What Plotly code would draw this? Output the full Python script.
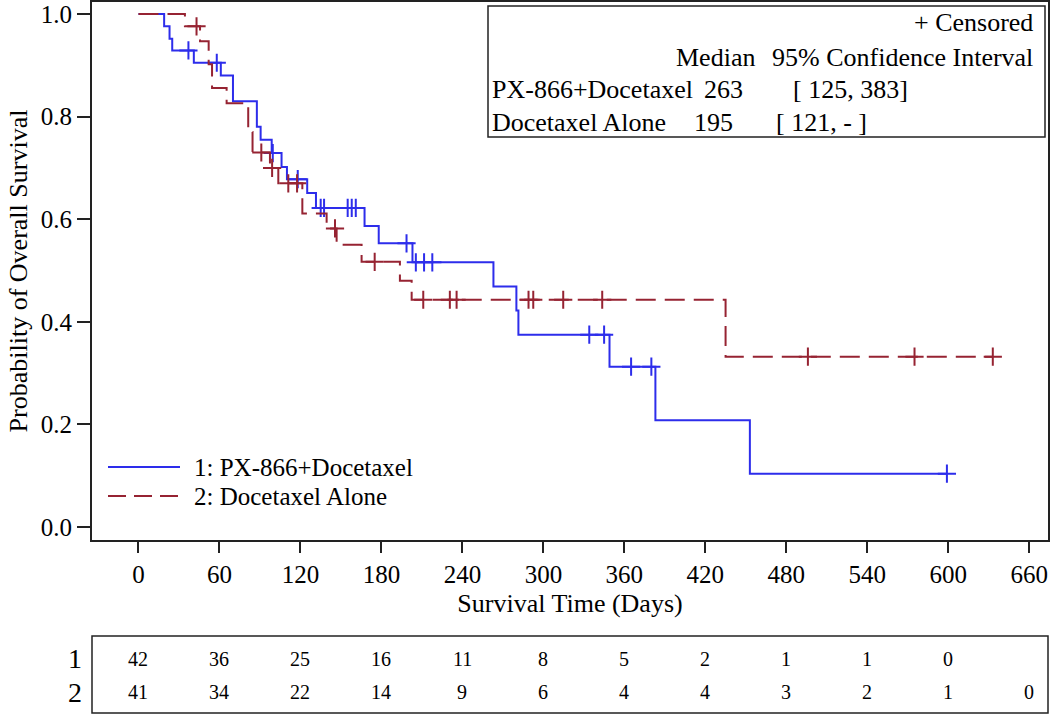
import numpy as np
import plotly.graph_objects as go

# ---------------- data ----------------
# Kaplan-Meier step data (time in days, survival after the step)
blue_t = [0, 19, 23, 25, 41, 61, 70, 87.7, 90.5, 98.7, 106, 110, 125, 131.5, 167.5, 178, 203,
          263, 280, 281.5, 349, 383, 453]
blue_s = [1.0, 0.976, 0.952, 0.929, 0.905, 0.880, 0.830, 0.780, 0.755, 0.729, 0.702, 0.678, 0.651,
          0.622, 0.587, 0.553, 0.516, 0.469, 0.422, 0.375, 0.3125, 0.208, 0.104]
blue_end = 599
blue_censor = [37, 58, 99.5, 118, 135, 137.5, 155, 158, 161, 198.6, 205.5, 211.6, 217.7,
               334, 345, 365, 380, 599]

red_t = [0, 34.4, 45.6, 52, 54.5, 65.3, 81.3, 84.5, 97.4, 103.6, 121.4, 139.4, 146.8, 165.3,
         193.7, 202.4, 435]
red_s = [1.0, 0.976, 0.947, 0.902, 0.856, 0.826, 0.770, 0.730, 0.700, 0.670, 0.611, 0.582,
         0.550, 0.517, 0.480, 0.443, 0.332]
red_end = 633
red_censor = [43, 91, 99, 111, 117.5, 145.6, 175, 211, 230.7, 235.7, 289, 292.5, 314.7, 343.6,
              496, 575, 633]

x_ticks = [0, 60, 120, 180, 240, 300, 360, 420, 480, 540, 600, 660]
y_ticks = [0.0, 0.2, 0.4, 0.6, 0.8, 1.0]
risk_1 = [42, 36, 25, 16, 11, 8, 5, 2, 1, 1, 0]
risk_2 = [41, 34, 22, 14, 9, 6, 4, 4, 3, 2, 1, 0]

series_names = ["1: PX-866+Docetaxel", "2: Docetaxel Alone"]
table_rows = [["PX-866+Docetaxel", "263", "[ 125, 383]"],
              ["Docetaxel Alone", "195", "[ 121, - ]"]]

BLUE = "rgb(45,45,235)"
RED = "rgb(150,35,50)"
FONT = "Liberation Serif"
FS = 25


def step_value(ts, ss, x):
    i = np.searchsorted(np.array(ts), x, side="right") - 1
    return np.array(ss)[i]


fig = go.Figure()

for ts, ss, end, cens, col, dash in [
    (blue_t, blue_s, blue_end, blue_censor, BLUE, "solid"),
    (red_t, red_s, red_end, red_censor, RED, "20px,9px"),
]:
    xs = list(ts) + [end]
    ys = list(ss) + [ss[-1]]
    fig.add_trace(go.Scatter(x=xs, y=ys, mode="lines", line=dict(color=col, width=2, shape="hv", dash=dash),
                             showlegend=False, hoverinfo="skip"))
    cy = [float(step_value(ts, ss, c)) for c in cens]
    fig.add_trace(go.Scatter(x=cens, y=cy, mode="markers",
                             marker=dict(symbol="cross-thin", size=13, line=dict(width=2, color=col)),
                             showlegend=False, hoverinfo="skip"))

W, H = 1050, 715
L, R, T, B = 92, 2, 2, 175
pw = W - L - R
ph = H - T - B


def px(xp):
    return (xp - L) / pw


def py(yp):
    return (H - B - yp) / ph


shapes = []
annotations = []

# inset box
shapes.append(dict(type="rect", xref="paper", yref="paper", x0=px(488), x1=px(1045), y0=py(137), y1=py(6),
                   line=dict(color="#222", width=1.5), fillcolor="rgba(0,0,0,0)"))


def txt(x, y, s, xa="left", size=FS):
    annotations.append(dict(xref="paper", yref="paper", x=px(x), y=py(y), text=s, showarrow=False,
                            xanchor=xa, yanchor="middle", font=dict(family=FONT, size=size, color="black")))


IS = 26
txt(1035, 23, "+ Censored", "right", IS)
txt(715, 57, "Median", "center", IS)
txt(1035, 57, "95% Confidence Interval", "right", IS)
txt(490, 90, table_rows[0][0], "left", IS)
txt(723, 90, table_rows[0][1], "center", IS)
txt(791, 90, table_rows[0][2], "left", IS)
txt(490, 122, table_rows[1][0], "left", IS)
txt(713, 122, table_rows[1][1], "center", IS)
txt(774, 122, table_rows[1][2], "left", IS)

# legend (bottom-left)
shapes.append(dict(type="line", xref="paper", yref="paper", x0=px(108), x1=px(180), y0=py(467), y1=py(467),
                   line=dict(color=BLUE, width=2)))
shapes.append(dict(type="line", xref="paper", yref="paper", x0=px(108), x1=px(180), y0=py(496), y1=py(496),
                   line=dict(color=RED, width=2, dash="18px,8px")))
txt(192, 467, series_names[0])
txt(192, 496, series_names[1])

# risk table
shapes.append(dict(type="rect", xref="paper", yref="paper", x0=0, x1=1, y0=py(713), y1=py(636),
                   line=dict(color="#222", width=1.5), fillcolor="rgba(0,0,0,0)"))
for row_y, label, vals in [(659, "1", risk_1), (692, "2", risk_2)]:
    txt(84, row_y, label, "right", 28)
    for t, v in zip(x_ticks, vals):
        annotations.append(dict(xref="x", yref="paper", x=t, y=py(row_y), text=str(v), showarrow=False,
                                xanchor="center", yanchor="middle",
                                font=dict(family=FONT, size=20, color="black")))

fig.update_layout(
    width=W, height=H,
    margin=dict(l=L, r=R, t=T, b=B, autoexpand=False),
    paper_bgcolor="white", plot_bgcolor="white",
    shapes=shapes, annotations=annotations,
    font=dict(family=FONT, size=FS, color="black"),
    xaxis=dict(range=[-34.45, 673.9], tickvals=x_ticks, ticks="outside", ticklen=11, tickwidth=1.5,
               tickcolor="#222", showgrid=False, zeroline=False, showline=True, linecolor="#222",
               linewidth=2, mirror=True, tickfont=dict(family=FONT, size=FS),
               title=dict(text="Survival Time (Days)", font=dict(family=FONT, size=FS + 1), standoff=7)),
    yaxis=dict(range=[-0.0253, 1.0234], tickvals=y_ticks, ticktext=[f"{v:.1f}" for v in y_ticks],
               ticks="outside", ticklen=13, tickwidth=1.5, tickcolor="#222", showgrid=False,
               zeroline=False, showline=True, linecolor="#222", linewidth=2, mirror=True,
               tickfont=dict(family=FONT, size=FS),
               title=dict(text="Probability of Overall Survival", font=dict(family=FONT, size=FS + 1), standoff=6)),
)

fig.write_html("out.html", post_script="document.body.style.margin='0px';",
               config={"displayModeBar": False})
